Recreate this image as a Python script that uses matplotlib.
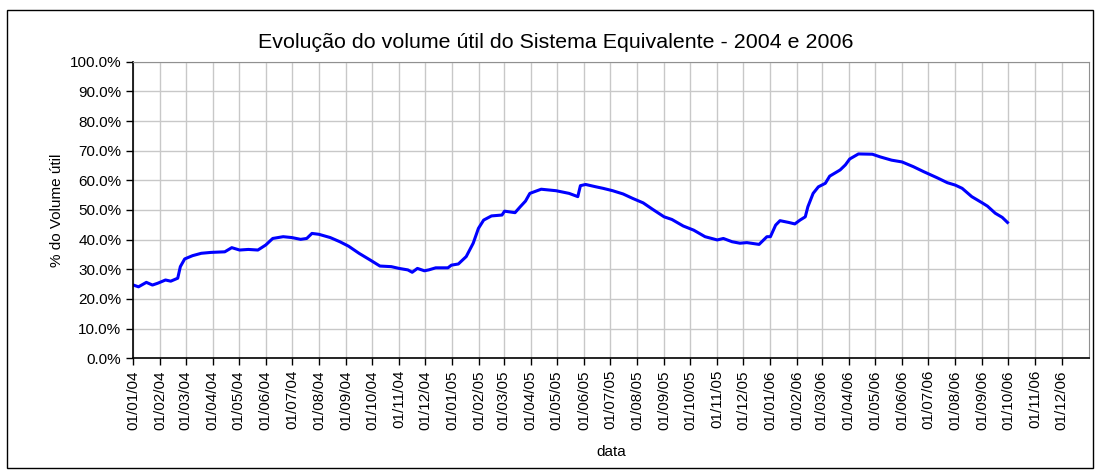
import matplotlib
matplotlib.use('Agg')
import matplotlib.pyplot as plt
import matplotlib.dates as mdates
from matplotlib.patches import Rectangle
from matplotlib.ticker import MultipleLocator, FuncFormatter
import pandas as pd

plt.rcParams['font.family'] = ['Liberation Sans', 'DejaVu Sans']

# leitura aproximada da curva (data, % do volume util)
datas = [
    '2004-01-01', '2004-01-07', '2004-01-16', '2004-01-23', '2004-01-29', '2004-02-07',
    '2004-02-13', '2004-02-21', '2004-02-24', '2004-02-29', '2004-03-09', '2004-03-19',
    '2004-03-30', '2004-04-15', '2004-04-23', '2004-05-02', '2004-05-12', '2004-05-23',
    '2004-06-01', '2004-06-09', '2004-06-21', '2004-07-01', '2004-07-11', '2004-07-18',
    '2004-07-24', '2004-08-01', '2004-08-14', '2004-08-25', '2004-09-04', '2004-09-16',
    '2004-09-29', '2004-10-10', '2004-10-23', '2004-11-01', '2004-11-11', '2004-11-16',
    '2004-11-22', '2004-11-30', '2004-12-05', '2004-12-13', '2004-12-27', '2004-12-31',
    '2005-01-08', '2005-01-17', '2005-01-25', '2005-01-31', '2005-02-06', '2005-02-15',
    '2005-02-27', '2005-03-02', '2005-03-14', '2005-03-20', '2005-03-26', '2005-03-31',
    '2005-04-13', '2005-04-30', '2005-05-15', '2005-05-25', '2005-05-28', '2005-06-03',
    '2005-06-15', '2005-06-23', '2005-07-04', '2005-07-16', '2005-07-27', '2005-08-08',
    '2005-08-19', '2005-09-01', '2005-09-10', '2005-09-23', '2005-10-05', '2005-10-18',
    '2005-11-01', '2005-11-08', '2005-11-18', '2005-11-27', '2005-12-05', '2005-12-19',
    '2005-12-28', '2006-01-01', '2006-01-07', '2006-01-12', '2006-01-22', '2006-01-29',
    '2006-02-04', '2006-02-10', '2006-02-13', '2006-02-19', '2006-02-25', '2006-03-05',
    '2006-03-10', '2006-03-22', '2006-03-28', '2006-04-02', '2006-04-12', '2006-04-28',
    '2006-05-07', '2006-05-20', '2006-06-01', '2006-06-14', '2006-06-26', '2006-07-11',
    '2006-07-23', '2006-08-01', '2006-08-09', '2006-08-20', '2006-09-01', '2006-09-07',
    '2006-09-16', '2006-09-24', '2006-09-30',
]
volume = [
    24.7, 24.1, 25.6, 24.7, 25.3, 26.4,
    26.0, 27.0, 30.9, 33.5, 34.6, 35.4,
    35.7, 35.9, 37.3, 36.5, 36.7, 36.5,
    38.2, 40.4, 41.0, 40.7, 40.1, 40.4,
    42.1, 41.8, 40.7, 39.3, 37.8, 35.4,
    33.1, 31.1, 30.9, 30.3, 29.8, 29.0,
    30.3, 29.5, 29.8, 30.5, 30.5, 31.4,
    31.8, 34.3, 38.8, 43.8, 46.6, 48.0,
    48.3, 49.6, 49.1, 51.1, 53.0, 55.6,
    57.0, 56.5, 55.6, 54.5, 58.2, 58.6,
    57.8, 57.3, 56.5, 55.4, 53.9, 52.4,
    50.2, 47.7, 46.8, 44.6, 43.2, 41.0,
    39.9, 40.4, 39.3, 38.8, 39.0, 38.4,
    41.0, 41.0, 44.9, 46.4, 45.8, 45.3,
    46.6, 47.7, 51.1, 55.6, 57.8, 59.0,
    61.4, 63.5, 65.2, 67.2, 68.9, 68.8,
    67.9, 66.8, 66.2, 64.6, 62.9, 60.9,
    59.2, 58.4, 57.3, 54.5, 52.4, 51.3,
    48.9, 47.5, 45.8,
]
meses = pd.date_range('2004-01-01', '2006-12-01', freq='MS')

datas = pd.to_datetime(datas)

fig = plt.figure(figsize=(10.96, 4.73), dpi=100)
ax = fig.add_axes([0.1216, 0.2425, 0.8716, 0.6271])

ax.plot(datas, volume, color='#0000ff', linewidth=2.2)

ax.set_xlim(pd.Timestamp('2004-01-01'), pd.Timestamp('2007-01-01'))
ax.set_ylim(0, 100)
ax.set_xticks(meses)
ax.xaxis.set_major_formatter(mdates.DateFormatter('%d/%m/%y'))
ax.yaxis.set_major_locator(MultipleLocator(10))
ax.yaxis.set_major_formatter(FuncFormatter(lambda v, p: f'{v:.1f}%'))
plt.setp(ax.get_xticklabels(), rotation=90)
ax.tick_params(axis='both', labelsize=11, length=5, width=1, direction='out')
ax.grid(True, color='#c8c8c8', linewidth=1)
ax.set_axisbelow(True)

for s in ['top', 'right']:
    ax.spines[s].set_color('#909090')
for s in ['left', 'bottom']:
    ax.spines[s].set_color('black')
    ax.spines[s].set_linewidth(1.2)

fig.text(0.507, 1 - 42 / 473, 'Evolução do volume útil do Sistema Equivalente - 2004 e 2006',
         fontsize=15.4, ha='center', va='center')
ax.set_ylabel('% do Volume útil', fontsize=11)
ax.set_xlabel('data', fontsize=11, labelpad=11)

fig.patches.append(Rectangle((7 / 1096, 5 / 473), 1086 / 1096, 458 / 473,
                             transform=fig.transFigure, fill=False,
                             edgecolor='black', linewidth=1))

fig.savefig('out.png', dpi=100)
